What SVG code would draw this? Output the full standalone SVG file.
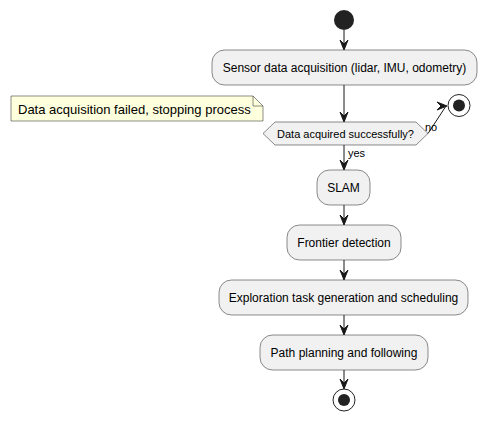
<svg xmlns="http://www.w3.org/2000/svg" width="486" height="422" viewBox="0 0 486 422">
<style>
.act{fill:#F1F1F1;stroke:#181818;stroke-width:0.5}
.t12{font-family:"Liberation Sans",Arial,sans-serif;font-size:12px;fill:#000}
.t11{font-family:"Liberation Sans",Arial,sans-serif;font-size:11px;fill:#000}
.t13{font-family:"Liberation Sans",Arial,sans-serif;font-size:13px;fill:#000}
.ln{stroke:#181818;stroke-width:1;fill:none}
.ah{fill:#181818;stroke:#181818;stroke-width:1}
</style>
<rect width="486" height="422" fill="#FFFFFF"/>
<g id="start"><circle cx="344" cy="20" r="10" fill="#222222"/></g>
<g id="n1"><rect class="act" x="212" y="50" width="265" height="35" rx="12.5"/><text class="t12" x="344.5" y="72" text-anchor="middle">Sensor data acquisition (lidar, IMU, odometry)</text></g>
<g id="decision"><polygon class="act" points="275,122 416,122 428,133.5 416,145 275,145 263,133.5"/><text class="t11" x="345.5" y="138" text-anchor="middle">Data acquired successfully?</text></g>
<g id="note"><polygon points="11,96 253,96 263,106 263,121 11,121" fill="#FEFFDD" stroke="#181818" stroke-width="0.5"/><path d="M253,96 L253,106 L263,106" fill="none" stroke="#181818" stroke-width="0.5"/><text class="t13" x="18" y="114">Data acquisition failed, stopping process</text></g>
<g id="stop1"><circle cx="459" cy="105.5" r="11" fill="none" stroke="#222222" stroke-width="1"/><circle cx="459" cy="105.5" r="6" fill="#222222"/></g>
<g id="n2"><rect class="act" x="317" y="170" width="53" height="35" rx="12.5"/><text class="t12" x="343.5" y="192" text-anchor="middle">SLAM</text></g>
<g id="n3"><rect class="act" x="287" y="225" width="114" height="35" rx="12.5"/><text class="t12" x="344" y="247" text-anchor="middle">Frontier detection</text></g>
<g id="n4"><rect class="act" x="219" y="280" width="249" height="35" rx="12.5"/><text class="t12" x="343.5" y="302" text-anchor="middle">Exploration task generation and scheduling</text></g>
<g id="n5"><rect class="act" x="260" y="335" width="168" height="35" rx="12.5"/><text class="t12" x="344" y="357" text-anchor="middle">Path planning and following</text></g>
<g id="stop2"><circle cx="344" cy="400" r="11" fill="none" stroke="#222222" stroke-width="1"/><circle cx="344" cy="400" r="6" fill="#222222"/></g>
<g id="connectors">
<line class="ln" x1="344" y1="30" x2="344" y2="49"/><polygon class="ah" points="340,40 344,50 348,40 344,44"/>
<line class="ln" x1="344" y1="85" x2="344" y2="121"/><polygon class="ah" points="340,112 344,122 348,112 344,116"/>
<line class="ln" x1="428" y1="133.5" x2="446" y2="106"/><polygon class="ah" points="437,102 447,106 437,110 441,106"/>
<text class="t11" x="425" y="131">no</text>
<line class="ln" x1="344" y1="145" x2="344" y2="169"/><polygon class="ah" points="340,160 344,170 348,160 344,164"/>
<text class="t11" x="348" y="157">yes</text>
<line class="ln" x1="344" y1="205" x2="344" y2="224"/><polygon class="ah" points="340,215 344,225 348,215 344,219"/>
<line class="ln" x1="344" y1="260" x2="344" y2="279"/><polygon class="ah" points="340,270 344,280 348,270 344,274"/>
<line class="ln" x1="344" y1="315" x2="344" y2="334"/><polygon class="ah" points="340,325 344,335 348,325 344,329"/>
<line class="ln" x1="344" y1="370" x2="344" y2="388"/><polygon class="ah" points="340,379 344,389 348,379 344,383"/>
</g>
</svg>
